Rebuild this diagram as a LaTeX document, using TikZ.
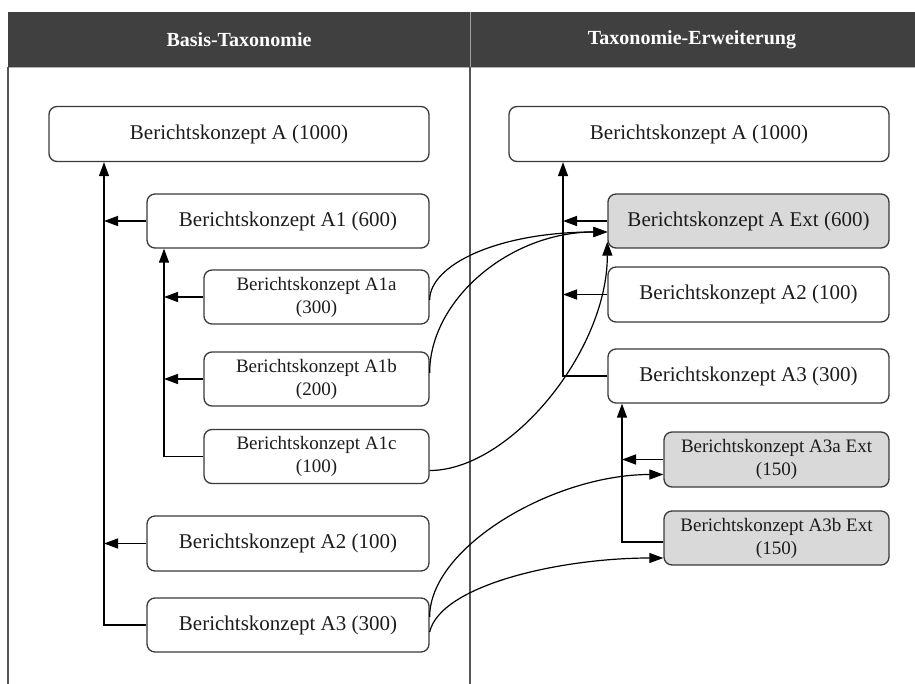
\documentclass[tikz,border=0pt]{standalone}
\usepackage{fontspec}
\setmainfont{Liberation Serif}
\usetikzlibrary{arrows.meta}

\definecolor{headgray}{HTML}{404040}
\definecolor{boxline}{HTML}{3A3A3A}
\definecolor{extgray}{HTML}{D9D9D9}
\definecolor{ink}{HTML}{1C1C1C}
\definecolor{framegray}{HTML}{555555}

\tikzset{
  box/.style={draw=boxline, line width=1.3pt, rounded corners=8pt, fill=white,
    align=center, inner sep=0pt, text=ink, font=\fontsize{21}{25}\selectfont},
  smallbox/.style={box, font=\fontsize{19}{23}\selectfont},
  extbox/.style={fill=extgray},
  headtext/.style={text=white, font=\bfseries\fontsize{20}{24}\selectfont},
  arr/.style={draw=black, line width=1.4pt, -{Triangle[length=14pt,width=10pt]}},
  link/.style={draw=black, line width=1.2pt, -{Triangle[length=14pt,width=10pt]}},
  frameline/.style={draw=framegray, line width=1.5pt}
}

\begin{document}
\begin{tikzpicture}[x=1pt, y=-1pt]
\useasboundingbox (0,0) rectangle (915,684);

% header bar and column frame
\fill[headgray] (8,12) rectangle (915,67);
\draw[gray!75, line width=0.8pt] (470,12) -- (470,67);
\draw[gray!60, line width=0.8pt] (8,67) -- (915,67);
\draw[frameline] (8,67) -- (8,684);
\draw[frameline] (470,67) -- (470,684);
\node[headtext] (h1) at (239,40) {Basis-Taxonomie};
\node[headtext] (h2) at (692,40) {Taxonomie-Erweiterung};

% base taxonomy
\node[box, minimum width=380pt, minimum height=55pt] (L0) at (239,134) {Berichtskonzept A (1000)};
\node[box, minimum width=282pt, minimum height=54pt] (L1) at (288,221) {Berichtskonzept A1 (600)};
\node[smallbox, minimum width=225pt, minimum height=54pt] (L1a) at (316.5,297) {Berichtskonzept A1a\\(300)};
\node[smallbox, minimum width=225pt, minimum height=54pt] (L1b) at (316.5,379) {Berichtskonzept A1b\\(200)};
\node[smallbox, minimum width=225pt, minimum height=54pt] (L1c) at (316.5,456.5) {Berichtskonzept A1c\\(100)};
\node[box, minimum width=282pt, minimum height=55pt] (L2) at (288,543.5) {Berichtskonzept A2 (100)};
\node[box, minimum width=282pt, minimum height=54pt] (L3) at (288,625) {Berichtskonzept A3 (300)};

% extension taxonomy
\node[box, minimum width=380pt, minimum height=55pt] (R0) at (699,134) {Berichtskonzept A (1000)};
\node[box, extbox, minimum width=281pt, minimum height=54pt] (R1) at (748.5,221) {Berichtskonzept A Ext (600)};
\node[box, minimum width=281pt, minimum height=55pt] (R2) at (748.5,294.5) {Berichtskonzept A2 (100)};
\node[box, minimum width=281pt, minimum height=54pt] (R3) at (748.5,376) {Berichtskonzept A3 (300)};
\node[smallbox, extbox, minimum width=225pt, minimum height=55pt] (R3a) at (776.5,459.5) {Berichtskonzept A3a Ext\\(150)};
\node[smallbox, extbox, minimum width=225pt, minimum height=54pt] (R3b) at (776.5,538) {Berichtskonzept A3b Ext\\(150)};

% trunk positions of the hierarchy connectors
\coordinate (lt0) at (104,0);
\coordinate (lt1) at (164,0);
\coordinate (rt0) at (563,0);
\coordinate (rt1) at (622,0);

% base hierarchy
\draw[arr] (L3.west) -| (L0.south -| lt0);
\draw[arr] (L1.west) -- (L1.west -| lt0);
\draw[arr] (L2.west) -- (L2.west -| lt0);
\draw[arr] (L1c.west) -| (L1.south -| lt1);
\draw[arr] (L1a.west) -- (L1a.west -| lt1);
\draw[arr] (L1b.west) -- (L1b.west -| lt1);

% extension hierarchy
\draw[arr] (R3.west) -| (R0.south -| rt0);
\draw[arr] (R1.west) -- (R1.west -| rt0);
\draw[arr] (R2.west) -- (R2.west -| rt0);
\draw[arr] ([yshift=-4pt]R3b.west) -| (R3.south -| rt1);
\draw[arr] (R3a.west) -- (R3a.west -| rt1);

% mappings between the two taxonomies
\draw[link] ([yshift=-3pt]L1a.east) .. controls +(0,-35) and +(-110,0) .. ([yshift=-11pt]R1.west);
\draw[link] ([yshift=6pt]L1b.east) .. controls +(0,-73) and +(-98,0) .. ([yshift=-11pt]R1.west);
\draw[link] ([yshift=-14pt]L1c.east) .. controls +(80,0) and +(0,110) .. ([yshift=7pt]R1.south west);
\draw[link] ([yshift=8pt]L3.east) .. controls +(0,-70) and +(-110,0) .. ([yshift=-15pt]R3a.west);
\draw[link] ([yshift=-7pt]L3.east) .. controls +(11,-47) and +(-103,0) .. ([yshift=-20pt]R3b.west);
\end{tikzpicture}
\end{document}
